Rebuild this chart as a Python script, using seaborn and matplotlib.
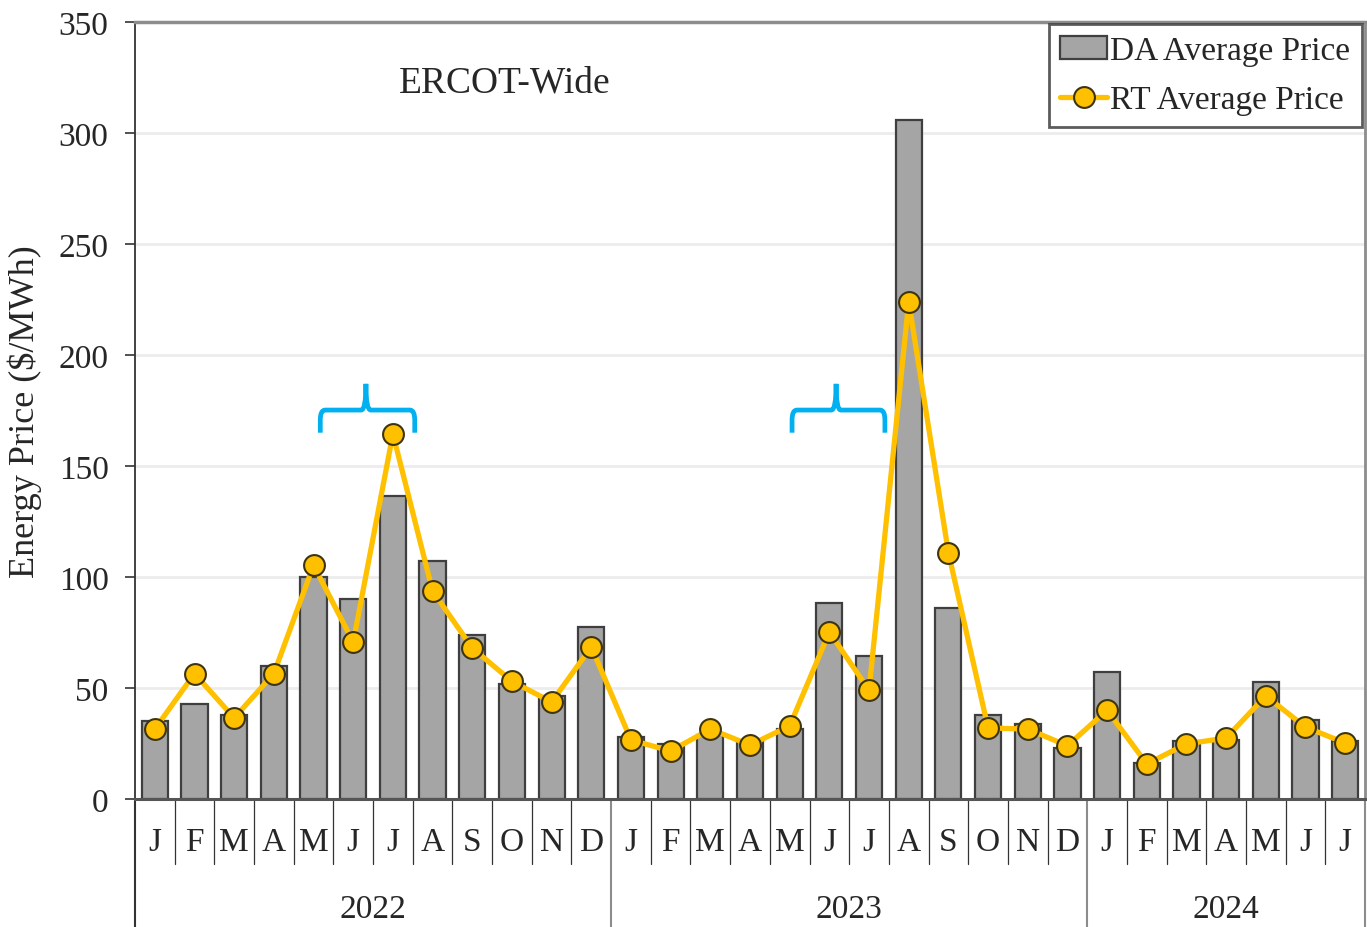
import matplotlib
matplotlib.use("Agg")
import matplotlib.pyplot as plt
from matplotlib.patches import Patch, PathPatch
from matplotlib.lines import Line2D
from matplotlib.path import Path
import seaborn as sns
import pandas as pd
import numpy as np

# ---------------- data ----------------
years = ["2022", "2023", "2024"]
months_per_year = [12, 12, 7]
month_letters = ["J", "F", "M", "A", "M", "J", "J", "A", "S", "O", "N", "D"]

da_price = [35, 43, 38, 60, 100, 90, 136.5, 107, 74, 52, 46.5, 77.5,
            28, 25, 29, 26, 31.5, 88.5, 64.5, 306, 86, 38, 34, 23,
            57, 16, 26, 26.5, 52.7, 35.6, 26]
rt_price = [31.5, 56.5, 36.5, 56.5, 105.3, 70.7, 164.4, 93.7, 68, 53, 43.7, 68.5,
            26.6, 21.6, 31.5, 24.3, 32.9, 75.2, 49, 224, 111, 32, 31.5, 24,
            40, 15.8, 24.8, 27.5, 46.4, 32.4, 25.2]

labels = []
year_of = []
for y, n in zip(years, months_per_year):
    labels += month_letters[:n]
    year_of += [y] * n

df = pd.DataFrame({"idx": np.arange(len(labels)), "month": labels,
                   "year": year_of, "DA": da_price, "RT": rt_price})

# ---------------- style ----------------
sns.set_style("white")
plt.rcParams["font.family"] = ["Liberation Serif", "DejaVu Serif"]

W, H = 1367, 928
fig = plt.figure(figsize=(W / 100, H / 100), dpi=100)
ax_l, ax_r, ax_t, ax_b = 135, 1365, 23, 800
ax = fig.add_axes([ax_l / W, (H - ax_b) / H, (ax_r - ax_l) / W, (ax_b - ax_t) / H])

BAR_FACE = "#a5a5a5"
BAR_EDGE = "#3f3f3f"
GOLD = "#FFC000"
MK_EDGE = "#3d3410"

sns.barplot(data=df, x="idx", y="DA", color=BAR_FACE, edgecolor=BAR_EDGE,
            linewidth=1.6, width=0.66, saturation=1, errorbar=None, ax=ax, zorder=2)
sns.lineplot(data=df, x="idx", y="RT", color=GOLD, linewidth=3.8, marker="o",
             markersize=15, markerfacecolor=GOLD, markeredgecolor=MK_EDGE,
             markeredgewidth=1.5, ax=ax, zorder=4)

ax.set_xlim(-0.5, len(labels) - 0.5)
ax.set_ylim(0, 350)
ax.set_yticks(np.arange(0, 351, 50))
ax.yaxis.grid(True, color="#ececec", linewidth=2, zorder=0)
ax.xaxis.grid(False)
ax.set_axisbelow(True)

ax.tick_params(axis="y", which="both", left=True, length=7, width=1.2,
               color="#333333", labelsize=24, pad=12)
ax.set_xticks(df["idx"])
ax.set_xticklabels(df["month"])
ax.tick_params(axis="x", length=0, labelsize=24, pad=20)

ax.set_xlabel("")
ax.set_ylabel("Energy Price ($/MWh)", fontsize=26)
ax.yaxis.set_label_coords(-0.0756, 0.5)

ax.spines["left"].set_color("#333333")
ax.spines["left"].set_linewidth(1.3)
ax.spines["bottom"].set_color("#555555")
ax.spines["bottom"].set_linewidth(2.2)
ax.spines["top"].set_color("#8c8c8c")
ax.spines["top"].set_linewidth(2.5)
ax.spines["right"].set_color("#8c8c8c")
ax.spines["right"].set_linewidth(2)

# ---------------- category separators ----------------
tr = ax.get_xaxis_transform()
axh = ax_b - ax_t
y_month = -(865 - ax_b) / axh
y_year = -(H - ax_b) / axh - 0.01
year_bounds = np.cumsum([0] + months_per_year) - 0.5
for b in np.arange(0.5, len(labels) - 1, 1.0):
    if b in year_bounds:
        continue
    ax.plot([b, b], [0, y_month], transform=tr, color="#333333", lw=0.9,
            clip_on=False, zorder=1)
for k, b in enumerate(year_bounds):
    col = "#333333" if k == 0 else "#8c8c8c"
    ax.plot([b, b], [0, y_year], transform=tr, color=col, lw=1.5,
            clip_on=False, zorder=1)
for k, y in enumerate(years):
    c = (year_bounds[k] + year_bounds[k + 1]) / 2
    ax.text(c, -(910 - ax_b) / axh, y, transform=tr, ha="center", va="center",
            fontsize=24)

# ---------------- annotations ----------------
ax.text((505 - ax_l) / (ax_r - ax_l), (ax_b - 83) / axh, "ERCOT-Wide",
        transform=ax.transAxes, ha="center", va="center", fontsize=27)


def draw_brace(x0, x1, xm, yb=165, yh=175.2, yt=187, rx=0.12, ry=4.5):
    verts = [(x0, yb), (x0, yh - ry), (x0, yh), (x0 + rx, yh),
             (xm - rx, yh), (xm, yh), (xm, yt),
             (xm, yt), (xm, yh), (xm + rx, yh),
             (x1 - rx, yh), (x1, yh), (x1, yh - ry), (x1, yb)]
    codes = [Path.MOVETO, Path.LINETO, Path.CURVE3, Path.CURVE3,
             Path.LINETO, Path.CURVE3, Path.CURVE3,
             Path.MOVETO, Path.CURVE3, Path.CURVE3,
             Path.LINETO, Path.CURVE3, Path.CURVE3, Path.LINETO]
    ax.add_patch(PathPatch(Path(verts, codes), fill=False, edgecolor="#00B0F0",
                           lw=3.4, capstyle="butt", joinstyle="round", zorder=5))


draw_brace(4.17, 6.55, 5.32)
draw_brace(16.06, 18.40, 17.17)

# ---------------- legend ----------------
handles = [Patch(facecolor=BAR_FACE, edgecolor=BAR_EDGE, linewidth=1.6),
           Line2D([], [], color=GOLD, lw=3.8, marker="o", markersize=15,
                  markerfacecolor=GOLD, markeredgecolor=MK_EDGE, markeredgewidth=1.5)]
leg = ax.legend(handles, ["DA Average Price", "RT Average Price"],
                loc="upper right", bbox_to_anchor=(0.9976, 0.997), borderaxespad=0,
                fontsize=24, frameon=True, fancybox=False, handlelength=1.4,
                handletextpad=0.1, labelspacing=0.55, borderpad=0.35)
leg.get_frame().set_edgecolor("#333333")
leg.get_frame().set_linewidth(2)
leg.set_zorder(6)

fig.savefig("out.png", dpi=100)
